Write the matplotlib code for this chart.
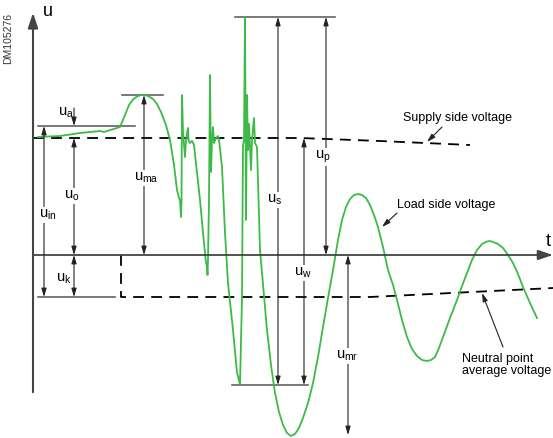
import matplotlib
matplotlib.use("Agg")
import matplotlib.pyplot as plt

plt.rcParams['font.family'] = ['Liberation Sans', 'DejaVu Sans']
plt.rcParams['mathtext.fontset'] = 'custom'
plt.rcParams['mathtext.rm'] = 'Liberation Sans'
plt.rcParams['mathtext.it'] = 'Liberation Sans'

# load side voltage (green trace), t = time, u = voltage (t axis at u = 0)
load_t = [5, 27, 47, 67, 71, 87, 92, 96, 100, 104, 108, 112, 116, 120, 124, 128, 133, 137,
          141, 144, 146, 147, 148, 148.5, 149, 150, 152, 153, 154, 155, 155.5, 157, 159, 161,
          164, 167, 170, 172, 173, 174, 174.5, 175, 176, 177, 178, 179, 180, 181, 183, 185,
          186, 189, 192, 195, 200, 204, 205, 207, 209, 210, 211, 212, 213, 214, 215, 216, 218,
          219, 221, 222, 224, 227, 234, 238, 242, 246, 250, 254, 258, 262, 266, 270, 275, 280,
          285, 290, 295, 300, 305, 309, 313, 317, 321, 325, 329, 333, 337, 341, 345, 350, 355,
          360, 364, 369, 374, 379, 384, 389, 394, 398, 402, 406, 410, 417, 424, 429, 434, 439,
          444, 449, 454, 457, 460, 465, 470, 475, 480, 485, 490, 497, 504]
load_u = [118, 119, 122, 124, 123, 128, 140, 150, 155.5, 158.5, 160, 160, 158.5, 156, 151, 143,
          130, 115, 90, 65, 57, 55, 38, 55, 160, 123, 98, 115, 122, 127, 115, 112, 114, 110,
          82, 55, 22, 2, -8, -11, -20, -5, 55, 180, 83, 115, 128, 112, 117, 119,
          115, 88, 22, -28, -75, -118, -121, -130, -43, 110, 115, 238, 35, 160, 105, 131, 85,
          115, 137, 112, 108, 5, -75, -110, -138, -157, -170, -178, -181, -179, -173, -163, -148, -128,
          -102, -72, -43, -15, 15, 35, 48, 56, 60, 61, 60, 57, 50, 40, 28, 8, -15,
          -30, -45, -65, -82, -94, -101, -105, -106, -105, -102, -93, -82, -63, -45, -31, -18, -5,
          5, 11, 13.5, 14, 13, 11, 7, 0, -8, -19, -32, -48, -63]

# supply side voltage and neutral point average voltage (dashed)
supply_t = [0, 267, 347, 437]
supply_u = [117, 117, 114, 110]
neutral_t = [88, 88, 337, 520]
neutral_u = [0, -42, -42, -33]

# reference level lines: (t_start, t_end, u)
levels = [(5, 102, 129), (89, 130, 160), (202, 302, 238), (199, 275, -130), (5, 82, -42)]

# dimension arrows: (label, t, u_from, u_to, label_t, label_u)
dims = [
    ('o', 41, 117, 0, 39, 59),
    ('in', 11, 129, -42, 15, 40),
    ('k', 41, 0, -42, 31, -24),
    ('ma', 111, 160, 0, 113, 77),
    ('s', 245, 238, -130, 242, 55),
    ('p', 293, 238, 0, 290, 98),
    ('w', 271, 117, -130, 270, -18),
    ('mr', 315, 0, -180, 314, -101),
]

fig = plt.figure(figsize=(5.53, 4.38), dpi=100)
ax = fig.add_axes([0, 0, 1, 1])
ax.set_xlim(-33, 520)
ax.set_ylim(-183, 255)
ax.axis('off')

grey = '#555555'
# axes with arrows
ax.annotate('', xy=(0, 245), xytext=(0, -140),
            arrowprops=dict(arrowstyle='-|>,head_length=0.9,head_width=0.3', color='#444444', lw=1.5))
ax.annotate('', xy=(520, 0), xytext=(0, 0),
            arrowprops=dict(arrowstyle='-|>,head_length=0.9,head_width=0.3', color='#444444', lw=1.3,
                            shrinkA=0, shrinkB=0))
ax.text(10, 243, 'u', fontsize=13, va='center', ha='left')
ax.text(515, 13, 't', fontsize=13, va='center', ha='center')
ax.text(-25, 217, 'DM105276', fontsize=7.5, rotation=90, va='center', ha='center', color='#333333')

ax.plot(supply_t, supply_u, color='black', lw=1.3, dashes=(6, 4))
ax.plot(neutral_t, neutral_u, color='black', lw=1.3, dashes=(6, 4))

for t0, t1, u in levels:
    ax.plot([t0, t1], [u, u], color=grey, lw=1.1)

ax.plot(load_t, load_u, color='#3dba47', lw=1.3, solid_joinstyle='round')

both = dict(arrowstyle='<|-|>,head_length=0.5,head_width=0.15', color='#222222', lw=0.8,
            shrinkA=0, shrinkB=0)
one = dict(arrowstyle='-|>,head_length=0.5,head_width=0.15', color='#222222', lw=0.8,
           shrinkA=0, shrinkB=0)

ax.annotate('', xy=(41, 129), xytext=(41, 147), arrowprops=one)
ax.text(33, 142, r'$\mathregular{u_{a}}$', fontsize=10.5, ha='center', va='center')

for name, t, u0, u1, lt, lu in dims:
    ax.annotate('', xy=(t, u1), xytext=(t, u0), arrowprops=both)
    ax.text(lt, lu, r'$\mathregular{u_{%s}}$' % name, fontsize=10.5, ha='center', va='center',
            bbox=dict(facecolor='white', edgecolor='none', pad=0.5))

thin = dict(arrowstyle='-|>,head_length=0.5,head_width=0.15', color='#222222', lw=0.8,
            shrinkA=0, shrinkB=0)
ax.text(370, 137, 'Supply side voltage', fontsize=9, ha='left', va='center')
ax.annotate('', xy=(394, 113), xytext=(409, 128), arrowprops=thin)
ax.text(364, 50, 'Load side voltage', fontsize=9, ha='left', va='center')
ax.annotate('', xy=(349, 28), xytext=(364, 42), arrowprops=thin)
ax.text(429, -110, 'Neutral point\naverage voltage', fontsize=9, ha='left', va='center',
        linespacing=1.0)
ax.annotate('', xy=(449, -38), xytext=(470, -92), arrowprops=thin)

fig.savefig('out.png', dpi=100)
